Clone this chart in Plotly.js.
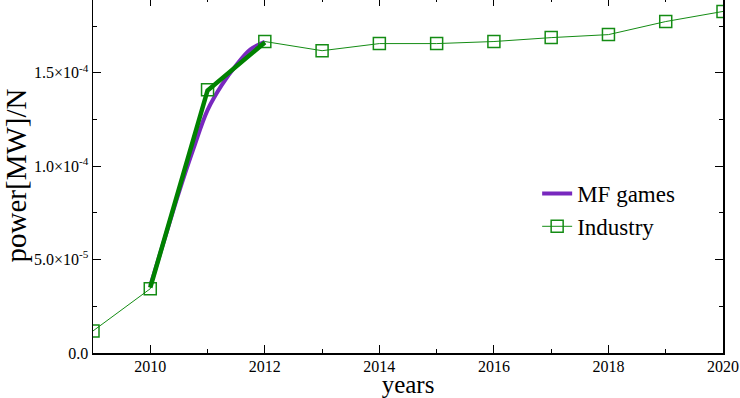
<!DOCTYPE html>
<html><head><meta charset="utf-8">
<script src="https://cdn.plot.ly/plotly-3.0.1.min.js"></script>
<style>html,body{margin:0;padding:0;overflow:hidden;background:#fff}#chart{position:absolute;left:0;top:-2px;width:740px;height:400px}</style>
</head><body><div id="chart"></div>
<script>
const industryYears = [2009,2010,2011,2012,2013,2014,2015,2016,2017,2018,2019,2020];
const industryValues = [1.18e-5,3.44e-5,1.409e-4,1.667e-4,1.618e-4,1.656e-4,1.656e-4,1.667e-4,1.688e-4,1.704e-4,1.774e-4,1.828e-4];
const fitYears = [2010,2011,2012];
const fitValues = [3.5e-5,1.405e-4,1.662e-4];
const mfYears = [2010,2010.25,2010.5,2010.75,2011,2011.25,2011.5,2011.75,2012];
const mfValues = [3.6e-5,6.1e-5,8.6e-5,1.09e-4,1.30e-4,1.435e-4,1.54e-4,1.625e-4,1.665e-4];
const yTickVals = [0,5e-5,1e-4,1.5e-4];
const yTickText = ['0.0','5.0×10<sup>-5</sup>','1.0×10<sup>-4</sup>','1.5×10<sup>-4</sup>'];
const xTickVals = [2010,2012,2014,2016,2018,2020];
const xTickText = ['2010','2012','2014','2016','2018','2020'];

const green = 'rgb(20,140,20)';
const purple = 'rgb(120,40,190)';
const font = 'Liberation Serif';

const traces = [
  {x: mfYears, y: mfValues, mode: 'lines', name: 'MF games', line: {color: purple, width: 4, shape: 'spline'}},
  {x: industryYears, y: industryValues, mode: 'lines+markers', name: 'Industry',
   line: {color: green, width: 1}, marker: {symbol: 'square-open', size: 12, color: green, line: {width: 1.5, color: green}}},
  {x: fitYears, y: fitValues, mode: 'lines', showlegend: false, line: {color: 'rgb(0,130,0)', width: 4.5}}
];

const layout = {
  width: 740, height: 400,
  margin: {l: 93, r: 17, t: 0, b: 45},
  paper_bgcolor: '#fff', plot_bgcolor: '#fff',
  font: {family: font, color: '#000', size: 16},
  showlegend: true,
  legend: {x: 0.705, y: 0.51, xanchor: 'left', yanchor: 'top', bgcolor: 'rgba(0,0,0,0)',
           font: {family: font, size: 23, color: '#000'}, tracegroupgap: 0, itemwidth: 30},
  xaxis: {range: [2009, 2020], tickmode: 'array', tickvals: xTickVals, ticktext: xTickText, ticks: 'inside', ticklen: 8, tickwidth: 1, tickcolor: '#000',
          showline: true, linecolor: '#000', linewidth: 1.5, mirror: 'ticks', showgrid: false, zeroline: false,
          minor: {dtick: 1, tick0: 2009, ticks: 'inside', ticklen: 4, tickcolor: '#000', showgrid: false},
          tickfont: {family: font, size: 16, color: '#000'}, ticklabelstandoff: -2,
          title: {text: 'years', font: {family: font, size: 25}, standoff: 3}},
  yaxis: {range: [0, 1.9e-4], tickmode: 'array', tickvals: yTickVals, ticktext: yTickText, ticks: 'inside', ticklen: 8, tickwidth: 1, tickcolor: '#000',
          showline: true, linecolor: '#000', linewidth: 1.5, mirror: 'ticks', showgrid: false, zeroline: false,
          minor: {dtick: 2.5e-5, tick0: 0, ticks: 'inside', ticklen: 4, tickcolor: '#000', showgrid: false},
          tickfont: {family: font, size: 16, color: '#000'},
          title: {text: 'power[MW]/N', font: {family: font, size: 29}, standoff: 0}}
};
Plotly.newPlot('chart', traces, layout, {displayModeBar: false, staticPlot: true});
</script></body></html>
